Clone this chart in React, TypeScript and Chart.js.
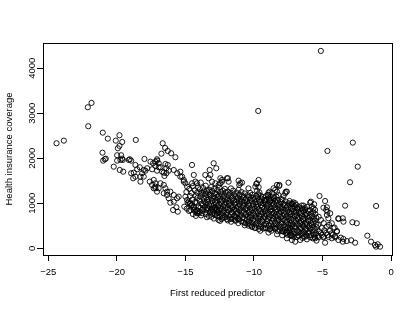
import React, { useEffect, useRef } from 'react';
import { Chart, registerables } from 'chart.js';
Chart.register(...registerables);

const xTickValues = [-25, -20, -15, -10, -5, 0];
const yTickValues = [0, 1000, 2000, 3000, 4000];
const xTitle = 'First reduced predictor';
const yTitle = 'Health insurance coverage';

// far-left sparse points (predictor, coverage)
const leftTail: [number, number][] = [
  [-24.4, 2333], [-23.87, 2391], [-22.12, 3133], [-21.85, 3229], [-22.09, 2711], [-21.03, 2569],
  [-20.66, 2436], [-19.81, 2511], [-20.08, 2391], [-19.61, 2362], [-19.81, 2273], [-19.93, 2222],
  [-21.05, 2124], [-18.62, 2407], [-19.98, 2067], [-19.69, 2067], [-20.81, 1991], [-21.0, 1947],
  [-20.88, 1978], [-19.61, 1991], [-19.06, 1978], [-19.74, 1962], [-19.57, 1962], [-19.98, 1947],
  [-20.23, 1813], [-19.79, 1740], [-19.54, 1702], [-19.13, 1962], [-18.96, 1947], [-18.96, 1667],
  [-18.77, 1680],
];

// upper-left arm of the band
const leftArm: [number, number][] = [
  [-17.99, 1984], [-17.07, 1978], [-18.65, 1851], [-18.52, 1756], [-18.33, 1800], [-18.81, 1556],
  [-18.65, 1591], [-18.28, 1591], [-18.28, 1480], [-18.04, 1591], [-18.16, 1667], [-18.04, 1740],
  [-17.92, 1724], [-17.79, 1778], [-17.55, 1924], [-17.36, 1889], [-17.19, 1924], [-17.07, 1947],
  [-16.95, 1889], [-16.66, 2333], [-16.48, 2229], [-16.29, 2162], [-16.04, 2111], [-15.73, 2022],
  [-16.75, 2102], [-17.43, 1756], [-17.07, 1724], [-16.82, 1800], [-16.7, 1702], [-16.39, 1667],
  [-16.22, 1724], [-16.29, 1851], [-17.6, 1480], [-17.43, 1407], [-17.19, 1333], [-17.07, 1258],
  [-16.95, 1333], [-17.31, 1518], [-16.82, 1444], [-16.58, 1407], [-16.46, 1333], [-16.34, 1258],
  [-16.34, 1184], [-16.1, 1258], [-15.85, 1184], [-15.61, 1111], [-15.49, 1147], [-15.85, 1036],
  [-16.1, 1013], [-15.66, 911], [-15.9, 851], [-15.56, 813], [-15.08, 924], [-14.64, 851],
  [-14.2, 851], [-17.19, 1829], [-16.95, 1800], [-16.46, 1873], [-16.39, 1778], [-16.58, 1680],
  [-16.53, 1607], [-17.19, 1444], [-16.58, 1222], [-16.22, 1111], [-15.85, 1740], [-15.6, 1667],
  [-15.37, 1591], [-15.12, 1518], [-17.31, 1333], [-17.19, 1369], [-15.37, 1702], [-15.24, 1591],
  [-15.12, 1480], [-15.0, 1444], [-14.88, 1369], [-15.0, 1147], [-14.88, 1073], [-14.64, 1000],
  [-14.39, 924], [-14.27, 813], [-14.03, 778], [-13.79, 851], [-14.75, 1036], [-14.52, 962],
  [-14.39, 851], [-14.15, 778], [-13.42, 889], [-13.06, 851], [-12.69, 851],
];

// scattered points above the dense band
const upperScatter: [number, number][] = [
  [-14.52, 1851], [-14.39, 1629], [-14.27, 1480], [-14.52, 1444], [-14.15, 1444], [-13.55, 1629],
  [-13.31, 1556], [-13.06, 1480], [-12.82, 1444], [-12.58, 1407], [-12.45, 1556], [-12.33, 1480],
  [-11.97, 1556], [-11.85, 1480], [-11.0, 1444], [-12.94, 1889], [-12.75, 1778], [-13.23, 1740],
  [-13.18, 1629], [-11.9, 1556], [-12.33, 1518], [-12.45, 1444], [-11.12, 1502], [-10.87, 1458],
  [-11.07, 1407], [-9.66, 1518], [-9.78, 1444], [-9.9, 1369], [-9.78, 1280], [-9.83, 1429],
  [-9.66, 1356], [-8.16, 1384], [-7.48, 1458], [-8.45, 1296], [-7.67, 1258], [-7.84, 1162],
  [-8.94, 1236], [-9.18, 1073], [-8.81, 1058], [-8.57, 1089], [-7.19, 984], [-8.32, 1407],
  [-8.14, 1407], [-8.57, 1333], [-8.69, 1222], [-8.86, 1258], [-9.0, 1184], [-8.32, 1258],
  [-8.37, 1147], [-8.62, 1147], [-8.21, 1184], [-7.6, 1258], [-7.72, 1222], [-9.69, 3051],
  [-12.82, 889], [-12.69, 778], [-10.4, 1330], [-9.6, 1240], [-8.95, 1190], [-8.0, 1090],
  [-7.4, 1050],
];

// dense core of the band
const coreBand: [number, number][] = [
  [-14.93, 1250], [-14.84, 1010], [-14.9, 880],
  [-14.72, 1320], [-14.66, 1160], [-14.69, 990], [-14.74, 830],
  [-14.47, 1380], [-14.55, 1230], [-14.51, 1080], [-14.58, 950], [-14.45, 760],
  [-14.32, 1290], [-14.22, 1170], [-14.29, 1030], [-14.37, 900], [-14.24, 720],
  [-14.08, 1350], [-14.14, 1240], [-14.11, 1120], [-14.17, 1010], [-14.05, 930], [-14.12, 820],
  [-13.88, 1460], [-13.94, 1310], [-13.85, 1230], [-13.91, 1150], [-13.97, 1060], [-13.83, 990], [-13.9, 900], [-13.96, 810], [-13.86, 730],
  [-13.71, 1340], [-13.66, 1260], [-13.75, 1190], [-13.68, 1110], [-13.64, 1040], [-13.73, 960], [-13.69, 870], [-13.77, 780],
  [-13.52, 1390], [-13.46, 1280], [-13.55, 1210], [-13.49, 1130], [-13.44, 1070], [-13.53, 1000], [-13.58, 920], [-13.47, 850], [-13.51, 760], [-13.43, 690],
  [-13.28, 1300], [-13.34, 1240], [-13.25, 1170], [-13.31, 1090], [-13.36, 1020], [-13.27, 950], [-13.33, 880], [-13.23, 800], [-13.3, 720],
  [-13.12, 1360], [-13.06, 1270], [-13.15, 1190], [-13.09, 1120], [-13.03, 1050], [-13.13, 980], [-13.08, 910], [-13.17, 840], [-13.05, 770], [-13.11, 700],
  [-12.91, 1320], [-12.86, 1230], [-12.95, 1160], [-12.88, 1100], [-12.84, 1030], [-12.93, 960], [-12.89, 890], [-12.97, 820], [-12.85, 740], [-12.92, 660],
  [-12.68, 1290], [-12.74, 1210], [-12.65, 1140], [-12.71, 1070], [-12.77, 1000], [-12.66, 930], [-12.72, 870], [-12.63, 800], [-12.7, 720],
  [-12.52, 1350], [-12.46, 1250], [-12.55, 1170], [-12.49, 1100], [-12.43, 1040], [-12.53, 970], [-12.48, 900], [-12.57, 840], [-12.44, 770], [-12.51, 700], [-12.47, 610],
  [-12.28, 1280], [-12.34, 1200], [-12.25, 1130], [-12.31, 1060], [-12.36, 990], [-12.27, 930], [-12.33, 860], [-12.23, 790], [-12.3, 730], [-12.35, 650],
  [-12.12, 1320], [-12.06, 1240], [-12.15, 1160], [-12.09, 1090], [-12.03, 1020], [-12.13, 960], [-12.08, 890], [-12.17, 820], [-12.05, 750], [-12.11, 690],
  [-11.91, 1260], [-11.86, 1190], [-11.95, 1110], [-11.88, 1050], [-11.84, 980], [-11.93, 910], [-11.89, 850], [-11.97, 780], [-11.85, 710], [-11.92, 620],
  [-11.68, 1330], [-11.74, 1220], [-11.65, 1150], [-11.71, 1080], [-11.77, 1010], [-11.66, 940], [-11.72, 870], [-11.63, 800], [-11.7, 740], [-11.75, 660], [-11.67, 590],
  [-11.52, 1280], [-11.46, 1200], [-11.55, 1120], [-11.49, 1060], [-11.43, 990], [-11.53, 920], [-11.48, 860], [-11.57, 790], [-11.44, 720], [-11.51, 650],
  [-11.28, 1240], [-11.34, 1160], [-11.25, 1090], [-11.31, 1030], [-11.36, 960], [-11.27, 900], [-11.33, 830], [-11.23, 760], [-11.3, 690], [-11.35, 610],
  [-11.12, 1300], [-11.06, 1190], [-11.15, 1120], [-11.09, 1050], [-11.03, 980], [-11.13, 920], [-11.08, 850], [-11.17, 780], [-11.05, 710], [-11.11, 640], [-11.14, 560],
  [-10.91, 1250], [-10.86, 1170], [-10.95, 1100], [-10.88, 1030], [-10.84, 960], [-10.93, 890], [-10.89, 820], [-10.97, 750], [-10.85, 680], [-10.92, 600],
  [-10.68, 1220], [-10.74, 1140], [-10.65, 1070], [-10.71, 1000], [-10.77, 940], [-10.66, 870], [-10.72, 800], [-10.63, 730], [-10.7, 660], [-10.75, 580], [-10.67, 510],
  [-10.46, 1180], [-10.55, 1110], [-10.49, 1040], [-10.43, 970], [-10.53, 900], [-10.48, 840], [-10.57, 770], [-10.44, 700], [-10.51, 630], [-10.47, 550],
  [-10.28, 1230], [-10.34, 1150], [-10.25, 1080], [-10.31, 1010], [-10.36, 950], [-10.27, 880], [-10.33, 810], [-10.23, 740], [-10.3, 670], [-10.35, 590], [-10.26, 520],
  [-10.12, 1190], [-10.06, 1120], [-10.15, 1050], [-10.09, 980], [-10.03, 910], [-10.13, 850], [-10.08, 780], [-10.17, 710], [-10.05, 640], [-10.11, 560], [-10.14, 480],
  [-9.86, 1160], [-9.95, 1090], [-9.88, 1020], [-9.84, 950], [-9.93, 880], [-9.89, 820], [-9.97, 750], [-9.85, 680], [-9.92, 610], [-9.87, 530], [-9.94, 450],
  [-9.68, 1200], [-9.74, 1130], [-9.65, 1060], [-9.71, 990], [-9.77, 920], [-9.66, 860], [-9.72, 790], [-9.63, 720], [-9.7, 650], [-9.75, 570], [-9.67, 500],
  [-9.52, 1170], [-9.46, 1100], [-9.55, 1030], [-9.49, 960], [-9.43, 900], [-9.53, 830], [-9.48, 760], [-9.57, 690], [-9.44, 620], [-9.51, 540], [-9.47, 470], [-9.54, 390],
  [-9.34, 1140], [-9.25, 1070], [-9.31, 1000], [-9.36, 930], [-9.27, 870], [-9.33, 800], [-9.23, 730], [-9.3, 660], [-9.35, 590], [-9.26, 510], [-9.32, 440],
  [-9.12, 1160], [-9.06, 1090], [-9.15, 1020], [-9.09, 950], [-9.03, 890], [-9.13, 820], [-9.08, 750], [-9.17, 680], [-9.05, 610], [-9.11, 540], [-9.14, 460],
  [-8.91, 1110], [-8.86, 1040], [-8.95, 970], [-8.88, 910], [-8.84, 840], [-8.93, 770], [-8.89, 700], [-8.97, 640], [-8.85, 570], [-8.92, 500], [-8.87, 420], [-8.94, 350],
  [-8.74, 1080], [-8.65, 1010], [-8.71, 940], [-8.77, 870], [-8.66, 810], [-8.72, 740], [-8.63, 670], [-8.7, 600], [-8.75, 530], [-8.67, 460], [-8.73, 390],
  [-8.52, 1120], [-8.46, 1050], [-8.55, 980], [-8.49, 910], [-8.43, 850], [-8.53, 780], [-8.48, 710], [-8.57, 640], [-8.44, 570], [-8.51, 500], [-8.47, 430],
  [-8.28, 1070], [-8.34, 1000], [-8.25, 930], [-8.31, 870], [-8.36, 800], [-8.27, 730], [-8.33, 660], [-8.23, 600], [-8.3, 530], [-8.35, 460], [-8.26, 380], [-8.32, 310],
  [-8.06, 1030], [-8.15, 960], [-8.09, 890], [-8.03, 820], [-8.13, 760], [-8.08, 690], [-8.17, 620], [-8.05, 550], [-8.11, 480], [-8.14, 410],
  [-7.91, 1080], [-7.86, 990], [-7.95, 920], [-7.88, 850], [-7.84, 790], [-7.93, 720], [-7.89, 650], [-7.97, 580], [-7.85, 510], [-7.92, 440], [-7.87, 370], [-7.94, 290],
  [-7.68, 1040], [-7.74, 960], [-7.65, 890], [-7.71, 820], [-7.77, 750], [-7.66, 690], [-7.72, 620], [-7.63, 550], [-7.7, 480], [-7.75, 410], [-7.67, 340],
  [-7.46, 1000], [-7.55, 930], [-7.49, 860], [-7.43, 790], [-7.53, 720], [-7.48, 660], [-7.57, 590], [-7.44, 520], [-7.51, 450], [-7.47, 380], [-7.54, 300],
  [-7.28, 980], [-7.34, 900], [-7.25, 830], [-7.31, 760], [-7.36, 700], [-7.27, 630], [-7.33, 560], [-7.23, 490], [-7.3, 420], [-7.35, 350], [-7.26, 270],
  [-7.12, 1020], [-7.06, 940], [-7.15, 870], [-7.09, 800], [-7.03, 730], [-7.13, 660], [-7.08, 600], [-7.17, 530], [-7.05, 460], [-7.11, 390], [-7.14, 320],
  [-6.91, 960], [-6.86, 880], [-6.95, 810], [-6.88, 740], [-6.84, 680], [-6.93, 610], [-6.89, 540], [-6.97, 470], [-6.85, 400], [-6.92, 330], [-6.87, 250],
  [-6.68, 910], [-6.74, 840], [-6.65, 770], [-6.71, 700], [-6.77, 640], [-6.66, 570], [-6.72, 500], [-6.63, 430], [-6.7, 360], [-6.75, 290],
  [-6.52, 950], [-6.46, 860], [-6.55, 790], [-6.49, 720], [-6.43, 650], [-6.53, 590], [-6.48, 520], [-6.57, 450], [-6.44, 380], [-6.51, 310], [-6.47, 230],
  [-6.28, 890], [-6.34, 810], [-6.25, 740], [-6.31, 670], [-6.36, 600], [-6.27, 540], [-6.33, 470], [-6.23, 400], [-6.3, 330], [-6.35, 260],
  [-6.12, 920], [-6.06, 830], [-6.15, 760], [-6.09, 690], [-6.03, 620], [-6.13, 550], [-6.08, 490], [-6.17, 420], [-6.05, 350], [-6.11, 280], [-6.14, 200],
  [-5.91, 850], [-5.86, 770], [-5.95, 700], [-5.88, 630], [-5.84, 560], [-5.93, 500], [-5.89, 430], [-5.97, 360], [-5.85, 290],
  [-5.68, 800], [-5.74, 720], [-5.65, 650], [-5.71, 580], [-5.77, 510], [-5.66, 440], [-5.72, 370], [-5.63, 300], [-5.7, 220],
  [-5.52, 760], [-5.46, 680], [-5.55, 610], [-5.49, 540], [-5.43, 470], [-5.53, 400], [-5.48, 330], [-5.57, 250], [-5.44, 170],
  [-5.28, 700], [-5.33, 520], [-5.25, 380], [-5.31, 280],
  [-5.12, 630], [-5.06, 450], [-5.13, 330],
  [-4.91, 560], [-4.86, 400], [-4.93, 260],
  [-4.68, 480], [-4.74, 340],
  [-4.52, 520], [-4.46, 390], [-4.55, 250],
  [-4.34, 330],
  [-4.12, 460], [-4.09, 270],
];

// bottom edge of the band
const lowerEdge: [number, number][] = [
  [-12.58, 629], [-12.29, 680], [-11.97, 651], [-11.65, 651], [-11.36, 629], [-11.12, 651],
  [-10.63, 556], [-10.39, 502], [-10.15, 480], [-9.9, 458], [-9.66, 429], [-9.18, 444],
  [-8.81, 429], [-8.45, 444], [-7.96, 384], [-7.6, 369], [-7.36, 444], [-7.28, 296],
  [-7.36, 296], [-7.12, 258], [-6.75, 273], [-6.26, 258], [-5.9, 244], [-5.54, 222],
  [-5.29, 244], [-4.93, 244], [-4.64, 296], [-4.32, 222], [-4.08, 244], [-3.84, 184],
  [-7.6, 222], [-7.23, 184], [-6.99, 147], [-6.63, 184], [-4.81, 124],
];

// right-hand sparse points
const rightTail: [number, number][] = [
  [-5.12, 4384], [-2.79, 2347], [-4.64, 2162], [-2.43, 1813], [-2.99, 1467], [-5.22, 1162],
  [-4.81, 1051], [-3.35, 947], [-1.09, 940], [-4.93, 902], [-4.73, 851], [-5.85, 1036],
  [-5.61, 978], [-5.66, 889], [-3.84, 667], [-3.52, 667], [-3.47, 591], [-2.82, 578],
  [-2.5, 556], [-4.68, 740], [-4.57, 667], [-4.32, 556], [-4.2, 444], [-3.95, 384],
  [-3.66, 236], [-3.47, 207], [-3.23, 162], [-2.91, 178], [-2.62, 124], [-3.52, 147],
  [-1.73, 280], [-1.46, 147], [-1.17, 73], [-0.97, 89], [-0.8, 36], [-1.09, 36],
  [-4.68, 911], [-4.64, 813], [-4.44, 778], [-3.84, 651], [-4.25, 296], [-3.95, 370],
  [-5.05, 296], [-6.99, 1000], [-6.87, 889], [-6.39, 947], [-6.26, 851], [-5.9, 1013],
  [-5.78, 924], [-5.54, 851], [-7.23, 1000], [-6.5, 889],
];

export default function App() {
  const ref = useRef<HTMLCanvasElement>(null);

  useEffect(() => {
    const canvas = ref.current;
    if (!canvas) return;
    const all = [...leftTail, ...leftArm, ...upperScatter, ...coreBand, ...lowerEdge, ...rightTail];
    const data = all.map(([x, y]) => ({ x, y }));
    const fmt = (v: number) => (v < 0 ? '\u2212' + Math.abs(v) : String(v));
    const font = '9.5px "Liberation Sans", Arial, Helvetica, sans-serif';

    const rPlugin = {
      id: 'rstyle',
      afterDraw(chart: any) {
        const { ctx, chartArea: a, scales } = chart;
        ctx.save();
        ctx.strokeStyle = '#000';
        ctx.lineWidth = 1;
        ctx.strokeRect(Math.round(a.left) + 0.5, Math.round(a.top) + 0.5, Math.round(a.right - a.left), Math.round(a.bottom - a.top));
        ctx.fillStyle = '#000';
        ctx.font = font;
        ctx.textAlign = 'center';
        ctx.textBaseline = 'middle';
        xTickValues.forEach((v) => {
          ctx.fillText(fmt(v), scales.x.getPixelForValue(v), a.bottom + 17);
        });
        yTickValues.forEach((v) => {
          const py = scales.y.getPixelForValue(v);
          ctx.save();
          ctx.translate(a.left - 11, py);
          ctx.rotate(-Math.PI / 2);
          ctx.fillText(fmt(v), 0, 0);
          ctx.restore();
        });
        ctx.fillText(xTitle, (a.left + a.right) / 2, a.bottom + 38);
        ctx.save();
        ctx.translate(a.left - 34, (a.top + a.bottom) / 2);
        ctx.rotate(-Math.PI / 2);
        ctx.fillText(yTitle, 0, 0);
        ctx.restore();
        ctx.restore();
      },
    };

    const chart = new Chart(canvas, {
      type: 'scatter',
      data: {
        datasets: [
          {
            data,
            pointStyle: 'circle',
            pointRadius: 2.6,
            pointBorderWidth: 0.9,
            pointBorderColor: '#000',
            pointBackgroundColor: 'rgba(0,0,0,0)',
            showLine: false,
          } as any,
        ],
      },
      options: {
        responsive: false,
        animation: false,
        events: [],
        layout: { padding: { left: 0, top: 43, right: 23, bottom: 0 } },
        plugins: { legend: { display: false }, tooltip: { enabled: false } },
        scales: {
          x: {
            type: 'linear',
            min: -25.39,
            max: 0.07,
            afterBuildTicks: (s: any) => {
              s.ticks = xTickValues.map((value) => ({ value }));
            },
            afterFit: (s: any) => {
              s.height = 55;
            },
            ticks: { display: false },
            grid: { display: true, drawOnChartArea: false, drawTicks: true, tickLength: 6, color: '#000', lineWidth: 1 },
            border: { display: true, color: '#000', width: 1 },
          },
          y: {
            type: 'linear',
            min: -149,
            max: 4560,
            afterBuildTicks: (s: any) => {
              s.ticks = yTickValues.map((value) => ({ value }));
            },
            afterFit: (s: any) => {
              s.width = 43;
            },
            ticks: { display: false },
            grid: { display: true, drawOnChartArea: false, drawTicks: true, tickLength: 6, color: '#000', lineWidth: 1 },
            border: { display: true, color: '#000', width: 1 },
          },
        },
      },
      plugins: [rPlugin],
    });
    return () => chart.destroy();
  }, []);

  return (
    <div style={{ position: 'fixed', left: 0, top: 0, width: 415, height: 310, background: '#fff' }}>
      <canvas ref={ref} width={415} height={310} style={{ display: 'block' }} />
    </div>
  );
}
